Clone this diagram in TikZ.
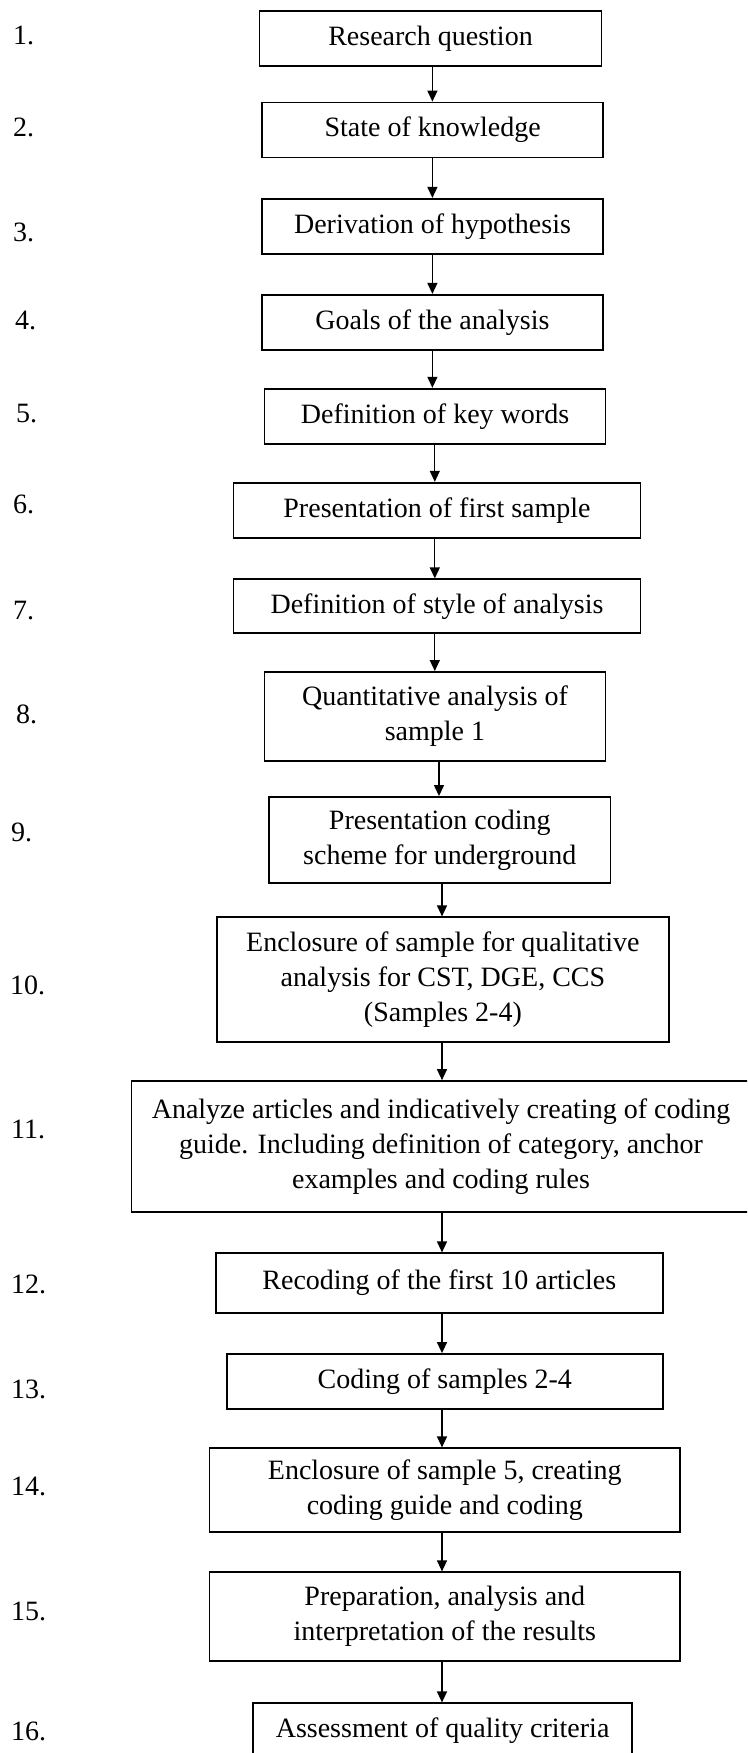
\documentclass[tikz,border=0pt]{standalone}
\usepackage{fontspec}
\setmainfont{Liberation Serif}
\usetikzlibrary{arrows.meta}
\tikzset{
  box/.style={draw=black, line width=1.8pt, inner sep=0pt, align=center, font=\fontsize{28}{35}\selectfont},
  arr/.style={line width=1.3pt, -{Triangle[width=10pt,length=11pt]}},
  num/.style={anchor=west, inner sep=0pt, font=\fontsize{28}{35}\selectfont}
}
\begin{document}
\begin{tikzpicture}[x=1pt,y=-1pt]
\useasboundingbox (0,0) rectangle (747,1753);
\fill[white] (0,0) rectangle (747,1753);
\clip (0,0) rectangle (747,1753);
% boxes
\node[box, minimum width=342pt, minimum height=55pt] (b1) at (430.5,38.4) {Research question};
\node[box, minimum width=341pt, minimum height=55pt] (b2) at (432.6,130) {State of knowledge};
\node[box, minimum width=341pt, minimum height=55pt] (b3) at (432.5,226.3) {Derivation of hypothesis};
\node[box, minimum width=341pt, minimum height=55pt] (b4) at (432.5,322.3) {Goals of the analysis};
\node[box, minimum width=341pt, minimum height=55pt] (b5) at (435,416.2) {Definition of key words};
\node[box, minimum width=407pt, minimum height=55pt] (b6) at (437,510.2) {Presentation of first sample};
\node[box, minimum width=407pt, minimum height=54pt] (b7) at (437,606.3) {Definition of style of analysis};
\node[box, minimum width=341pt, minimum height=88.7pt] (b8) at (435,716.3) {Quantitative analysis of\\sample 1};
\node[box, minimum width=341.5pt, minimum height=85.7pt] (b9) at (439.8,839.8) {Presentation coding\\scheme for underground};
\node[box, minimum width=452.3pt, minimum height=125pt] (b10) at (442.9,979.8) {Enclosure of sample for qualitative\\analysis for CST, DGE, CCS\\(Samples 2-4)};
\node[box, minimum width=619.2pt, minimum height=131.3pt] (b11) at (441,1146.7) {Analyze articles and indicatively creating of coding\\guide. Including definition of category, anchor\\examples and coding rules};
\node[box, minimum width=447.2pt, minimum height=59.4pt] (b12) at (439.3,1283) {Recoding of the first 10 articles};
\node[box, minimum width=436.2pt, minimum height=55pt] (b13) at (444.8,1381.5) {Coding of samples 2-4};
\node[box, minimum width=470.5pt, minimum height=83.4pt] (b14) at (444.8,1490) {Enclosure of sample 5, creating\\coding guide and coding};
\node[box, minimum width=470.5pt, minimum height=88.4pt] (b15) at (444.8,1616.5) {Preparation, analysis and\\interpretation of the results};
\node[box, minimum width=379.5pt, minimum height=55.2pt] (b16) at (442.6,1730.9) {Assessment of quality criteria};
% arrow x positions
\coordinate (xa) at (432.4,0);
\coordinate (xb) at (434.8,0);
\coordinate (xc) at (439,0);
\coordinate (xd) at (442,0);
\draw[arr] (b1.south -| xa) -- (b2.north -| xa);
\draw[arr] (b2.south -| xa) -- (b3.north -| xa);
\draw[arr] (b3.south -| xa) -- (b4.north -| xa);
\draw[arr] (b4.south -| xa) -- (b5.north -| xa);
\draw[arr] (b5.south -| xb) -- (b6.north -| xb);
\draw[arr] (b6.south -| xb) -- (b7.north -| xb);
\draw[arr] (b7.south -| xb) -- (b8.north -| xb);
\draw[arr] (b8.south -| xc) -- (b9.north -| xc);
\draw[arr] (b9.south -| xd) -- (b10.north -| xd);
\draw[arr] (b10.south -| xd) -- (b11.north -| xd);
\draw[arr] (b11.south -| xd) -- (b12.north -| xd);
\draw[arr] (b12.south -| xd) -- (b13.north -| xd);
\draw[arr] (b13.south -| xd) -- (b14.north -| xd);
\draw[arr] (b14.south -| xd) -- (b15.north -| xd);
\draw[arr] (b15.south -| xd) -- (b16.north -| xd);
% numbers
\node[num] (n1) at (13,35) {1.};
\node[num] (n2) at (13,127) {2.};
\node[num] (n3) at (13,232) {3.};
\node[num] (n4) at (15,320.5) {4.};
\node[num] (n5) at (16,414) {5.};
\node[num] (n6) at (13,504) {6.};
\node[num] (n7) at (13,611) {7.};
\node[num] (n8) at (16,714) {8.};
\node[num] (n9) at (11,832) {9.};
\node[num] (n10) at (10,985) {10.};
\node[num] (n11) at (11,1129) {11.};
\node[num] (n12) at (11,1284) {12.};
\node[num] (n13) at (11,1389) {13.};
\node[num] (n14) at (11,1486) {14.};
\node[num] (n15) at (11,1611) {15.};
\node[num] (n16) at (11,1731) {16.};
\end{tikzpicture}
\end{document}
